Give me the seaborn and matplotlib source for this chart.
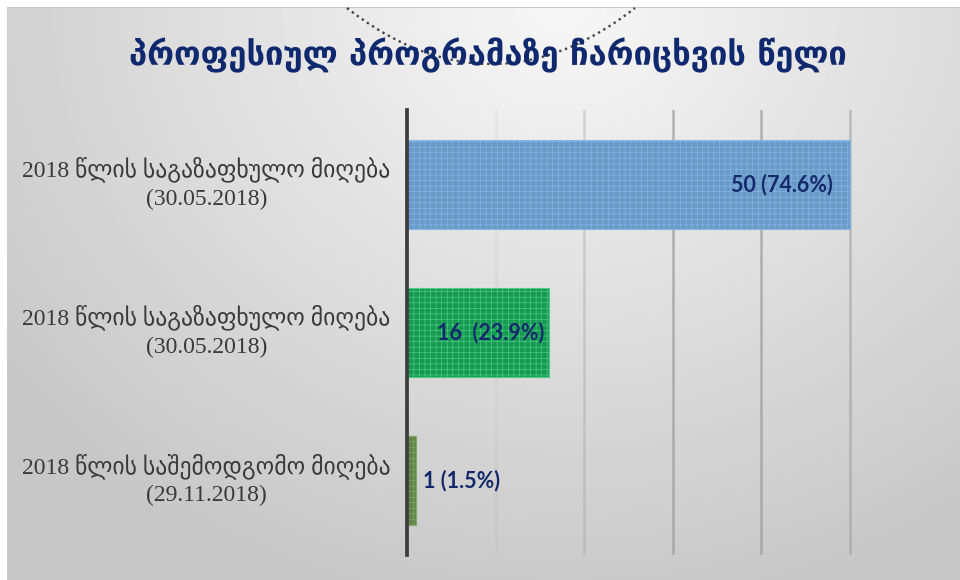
import numpy as np
import pandas as pd
import matplotlib
matplotlib.use("Agg")
import matplotlib.pyplot as plt
import matplotlib.transforms as mtransforms
import seaborn as sns

# ---- data ----
title = "პროფესიულ პროგრამაზე ჩარიცხვის წელი"
categories = [
    "2018 წლის საგაზაფხულო მიღება\n(30.05.2018)",
    "2018 წლის საგაზაფხულო მიღება\n(30.05.2018)",
    "2018 წლის საშემოდგომო მიღება\n(29.11.2018)",
]
counts = [50, 16, 1]
bar_labels = ["50 (74.6%)", "16  (23.9%)", "1 (1.5%)"]
bar_colors = ["#5B9BD5", "#00B050", "#5F8F3E"]
hatch_colors = ["#86B6E3", "#4FCB86", "#80A866"]
grid_ticks = [10, 20, 30, 40, 50]

sns.set_theme(style="white")
plt.rcParams["font.family"] = ["DejaVu Sans"]
plt.rcParams["hatch.linewidth"] = 0.45

W, H = 960, 580
fig = plt.figure(figsize=(W / 100, H / 100), dpi=100)

# ---- background gradient panel ----
yy, xx = np.mgrid[0:H, 0:W]
d = np.sqrt(((xx - 560) / 700.0) ** 2 + ((yy - 0) / 620.0) ** 2)
bg = 0.97 - 0.19 * np.clip(d, 0, 1)
bg[:7, :] = 1.0
bg[:, :7] = 1.0
bg[7, 7:] = 0.78
bg_ax = fig.add_axes([0, 0, 1, 1], zorder=-10)
bg_ax.imshow(bg, cmap="gray", vmin=0, vmax=1, extent=[0, W, H, 0], aspect="auto",
             interpolation="bilinear")
# decorative dotted arc behind the title
xs = np.linspace(347, 635, 160)
ys = 64 - 0.00270 * (xs - 491) ** 2
bg_ax.plot(xs, ys, color="#1a1a1a", lw=1.7, ls=(0, (1, 1.6)), alpha=0.8)
bg_ax.set_xlim(0, W)
bg_ax.set_ylim(H, 0)
bg_ax.axis("off")

# ---- main axes ----
ax = fig.add_axes([407 / W, 25 / H, 447 / W, 445 / H])
ax.set_facecolor("none")

df = pd.DataFrame({"row": ["r0", "r1", "r2"], "count": counts})
sns.barplot(data=df, x="count", y="row", hue="row", palette=bar_colors,
            orient="h", width=0.6, legend=False, ax=ax, zorder=3)

for p, hc in zip(ax.patches, hatch_colors):
    p.set_hatch("+++")
    p.set_edgecolor(hc)
    p.set_linewidth(0.8)

ax.set_xlim(0, 50.5)
ax.set_ylim(2.5, -0.5)
ax.set_xticks(grid_ticks)
ax.set_xticklabels([])
ax.tick_params(axis="both", length=0)
ax.set_xlabel("")
ax.set_ylabel("")
ax.grid(axis="x", color="#9a9a9a", lw=1.8, zorder=0)
ax.grid(axis="y", visible=False)
for gl, a in zip(ax.xaxis.get_gridlines(), [0.1, 0.35, 0.7, 0.7, 0.55]):
    gl.set_alpha(a)

for s in ["top", "right", "bottom"]:
    ax.spines[s].set_visible(False)
ax.spines["left"].set_color("#3d3d3d")
ax.spines["left"].set_linewidth(2.7)
ax.spines["left"].set_zorder(5)

ax.set_yticks([0, 1, 2])
ax.set_yticklabels(categories, family=["Liberation Serif", "DejaVu Sans"],
                   fontsize=17, color="#3a3a3a", linespacing=1.4)
ax.tick_params(axis="y", pad=12)
shift = mtransforms.ScaledTranslation(0, 5 / 72, fig.dpi_scale_trans)
for t in ax.get_yticklabels():
    t.set_multialignment("center")
    t.set_transform(t.get_transform() + shift)

# value labels
offsets = [(-12, "right"), (-3, "right"), (5, "left")]
for i, (p, lab) in enumerate(zip(ax.patches, bar_labels)):
    off, ha = offsets[i]
    ax.annotate(lab, xy=(p.get_width(), p.get_y() + p.get_height() / 2),
                xytext=(off, 0), textcoords="offset points", ha=ha, va="center",
                fontsize=15.5, fontweight="bold", family=["Lato", "DejaVu Sans"],
                color="#14296B", zorder=6)

fig.text(488 / W, 1 - 55 / H, title, ha="center", va="center", fontsize=23.5,
         fontweight="bold", color="#10296E", family=["DejaVu Sans"])

fig.savefig("out.png", dpi=100)
